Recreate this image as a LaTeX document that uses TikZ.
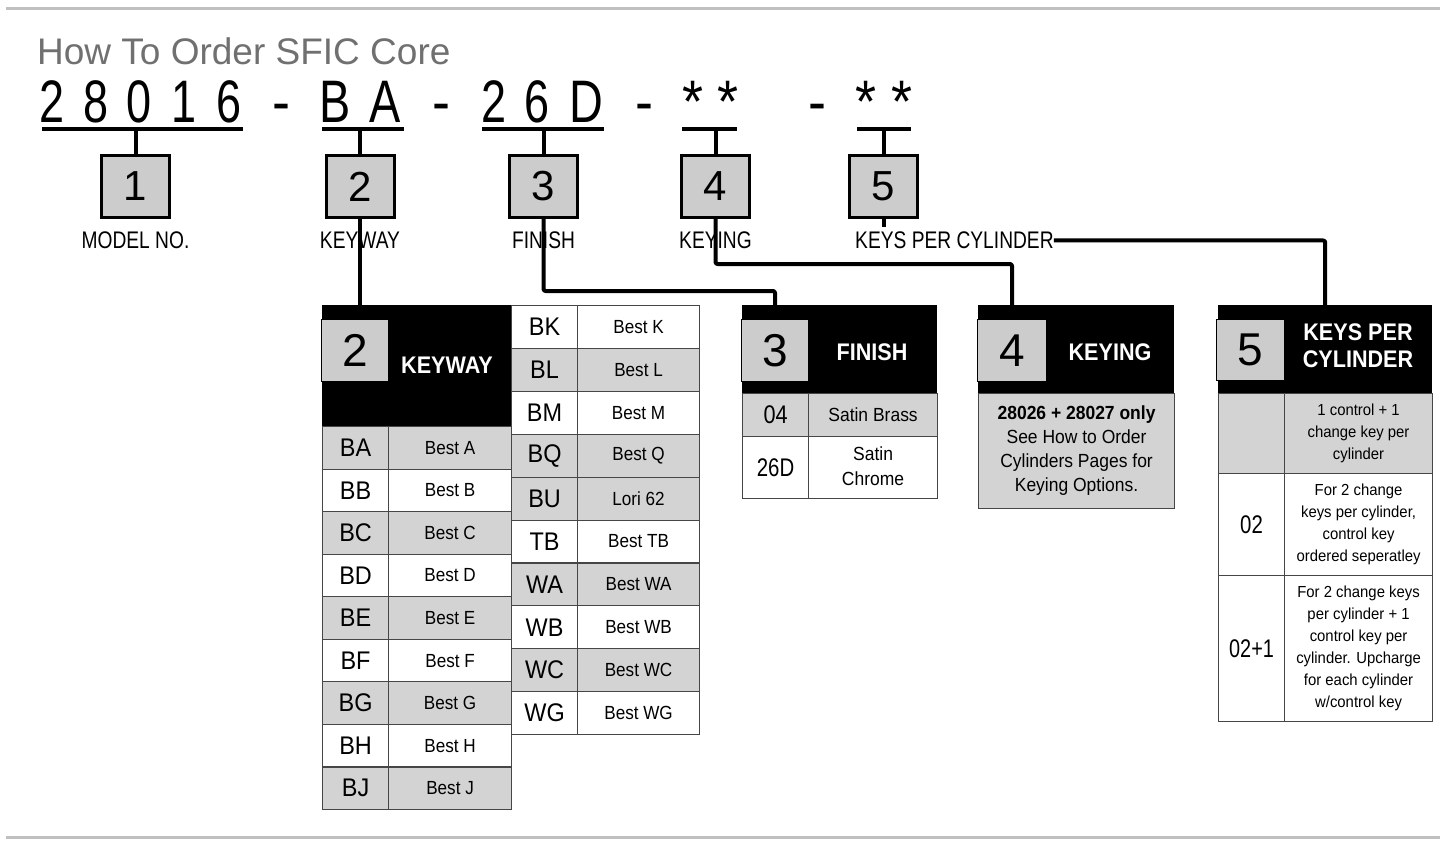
\documentclass[tikz,border=0pt]{standalone}
\usepackage{fontspec}
\setmainfont{Liberation Sans}
\usetikzlibrary{calc}
\definecolor{cellgray}{RGB}{211,211,211}
\definecolor{boxgray}{RGB}{204,204,204}
\definecolor{titlegray}{RGB}{112,112,112}
\definecolor{rulegray}{RGB}{192,192,192}
\definecolor{gridline}{RGB}{70,70,70}
\newcommand{\cnd}[2][0.85]{\scalebox{#1}[1]{#2}}
\begin{document}
\begin{tikzpicture}[x=1pt,y=-1pt,
  numbox/.style={draw=black, line width=3pt, fill=boxgray, minimum width=68pt, minimum height=62pt, inner sep=0pt, font=\fontsize{42}{42}\selectfont},
  bigtxt/.style={font=\fontsize{60}{60}\selectfont, inner sep=0pt},
  lbltxt/.style={font=\fontsize{24}{24}\selectfont, inner sep=0pt},
  hdr/.style={fill=black, inner sep=0pt, anchor=north west},
  hnum/.style={draw=black, line width=1.5pt, fill=boxgray, inner sep=0pt, anchor=north west, font=\fontsize{46}{46}\selectfont},
  htitle/.style={text=white, font=\bfseries\fontsize{24}{27}\selectfont, inner sep=0pt},
  cellbox/.style={draw=gridline, line width=1.1pt, inner sep=0pt, anchor=north west},
  codetxt/.style={font=\fontsize{25.5}{25.5}\selectfont},
  desctxt/.style={font=\fontsize{19}{25}\selectfont},
  smalltxt/.style={font=\fontsize{16}{22}\selectfont},
  conn/.style={line width=4pt, line join=round, rounded corners=2pt},
  uline/.style={line width=4pt}
]
\useasboundingbox (0,0) rectangle (1455,842);
% rules
\draw[rulegray, line width=3pt] (6,9) -- (1440,9);
\draw[rulegray, line width=3pt] (6,837) -- (1440,837);
% title
\node[anchor=base west, text=titlegray, font=\fontsize{37}{37}\selectfont, inner sep=0pt] (title) at (37,65) {How To Order SFIC Core};
% big code
\foreach \ch/\xx/\sc [count=\i] in {2/52.5/0.75, 8/96/0.75, 0/139/0.75, 1/184/0.75, 6/229/0.75, -/281.5/0.9, B/335/0.78, A/385.5/0.78, -/441.5/0.9, 2/494.5/0.75, 6/537.5/0.75, D/586/0.78, -/644.5/0.9, */692.5/0.9, */728/0.9, -/817.5/0.9, */866/0.9, */901.5/0.9}
  \node[bigtxt, anchor=base] (ch\i) at (\xx,123) {\cnd[\sc]{\ch}};
\draw[uline] (42,129) -- (243,129);
\draw[uline] (322,129) -- (404,129);
\draw[uline] (482,129) -- (604,129);
\draw[uline] (682,129) -- (737,129);
\draw[uline] (857,129) -- (911,129);
\coordinate (u1) at (135.5,129);
\coordinate (u2) at (360,129);
\coordinate (u3) at (543.5,129);
\coordinate (u4) at (715.5,129);
\coordinate (u5) at (883.5,129);
% number boxes
\node[numbox] (b1) at (135.5,186.5) {\raisebox{-3pt}{1}};
\node[numbox] (b2) at (360,186.5) {\raisebox{-3pt}{2}};
\node[numbox] (b3) at (543.5,186.5) {\raisebox{-3pt}{3}};
\node[numbox] (b4) at (715.5,186.5) {\raisebox{-3pt}{4}};
\node[numbox] (b5) at (883.5,186.5) {\raisebox{-3pt}{5}};
\foreach \k in {1,...,5} \draw[conn] (u\k) -- (b\k.north);

% ---- keyway table
\node[hdr, minimum width=189pt, minimum height=121pt] (kwh) at (322,305) {};
\node[hnum, minimum width=67pt, minimum height=62pt] (kwn) at (320.75,318.75) {2};
\node[htitle] (kwt) at (447,365) {\cnd[0.9]{KEYWAY}};
\foreach \c/\n/\f [count=\i from 0] in {BA/Best A/cellgray,BB/Best B/white,BC/Best C/cellgray,BD/Best D/white,BE/Best E/cellgray,BF/Best F/white,BG/Best G/cellgray,BH/Best H/white,BJ/Best J/cellgray}{
  \node[cellbox, codetxt, fill=\f, minimum width=66pt, minimum height=42.56pt] (kwc\i) at (322,{426+42.56*\i}) {\cnd[0.92]{\c}};
  \node[cellbox, desctxt, fill=\f, minimum width=123pt, minimum height=42.56pt] (kwd\i) at (388,{426+42.56*\i}) {\cnd[0.9]{\n}};
}
\foreach \c/\n/\f [count=\i from 0] in {BK/Best K/white,BL/Best L/cellgray,BM/Best M/white,BQ/Best Q/cellgray,BU/Lori 62/cellgray,TB/Best TB/white,WA/Best WA/cellgray,WB/Best WB/white,WC/Best WC/cellgray,WG/Best WG/white}{
  \node[cellbox, codetxt, fill=\f, minimum width=66pt, minimum height=42.9pt] (krc\i) at (511,{305+42.9*\i}) {\cnd[0.92]{\c}};
  \node[cellbox, desctxt, fill=\f, minimum width=122pt, minimum height=42.9pt] (krd\i) at (577,{305+42.9*\i}) {\cnd[0.9]{\n}};
}

% ---- finish table
\node[hdr, minimum width=195pt, minimum height=88pt] (fh) at (742,305) {};
\node[hnum, minimum width=67pt, minimum height=62pt] (fn) at (740.75,318.75) {3};
\node[htitle] (ft) at (872,352) {\cnd[0.9]{FINISH}};
\node[cellbox, codetxt, fill=cellgray, minimum width=66pt, minimum height=43pt] (fc0) at (742,393) {\cnd[0.85]{04}};
\node[cellbox, desctxt, fill=cellgray, minimum width=129pt, minimum height=43pt] (fd0) at (808,393) {\cnd[0.92]{Satin Brass}};
\node[cellbox, codetxt, fill=white, minimum width=66pt, minimum height=62pt] (fc1) at (742,436) {\cnd[0.8]{26D}};
\node[cellbox, desctxt, fill=white, minimum width=129pt, minimum height=62pt] (fd1) at (808,436) {\cnd[0.92]{\begin{tabular}{@{}c@{}}Satin\\Chrome\end{tabular}}};

% ---- keying table
\node[hdr, minimum width=196pt, minimum height=88pt] (kh) at (978,305) {};
\node[hnum, minimum width=69pt, minimum height=62pt] (kn) at (976.75,318.75) {4};
\node[htitle] (kt) at (1110,352) {\cnd[0.9]{KEYING}};
\node[cellbox, fill=cellgray, minimum width=196pt, minimum height=115pt, font=\fontsize{19}{24}\selectfont] (kb) at (978,393) {\cnd[0.92]{\begin{tabular}{@{}c@{}}\textbf{28026 + 28027 only}\\See How to Order\\Cylinders Pages for\\Keying Options.\end{tabular}}};

% ---- keys per cylinder table
\node[hdr, minimum width=214pt, minimum height=88pt] (ph) at (1218,305) {};
\node[hnum, minimum width=68pt, minimum height=61pt] (pn) at (1215.75,318.75) {5};
\node[htitle] (pt) at (1358,348.5) {\cnd[0.9]{\begin{tabular}{@{}c@{}}KEYS PER\\CYLINDER\end{tabular}}};
\node[cellbox, fill=cellgray, minimum width=66pt, minimum height=80pt] (pc0) at (1218,393) {};
\node[cellbox, smalltxt, fill=cellgray, minimum width=148pt, minimum height=80pt] (pd0) at (1284,393) {\cnd[0.93]{\begin{tabular}{@{}c@{}}1 control + 1\\change key per\\cylinder\end{tabular}}};
\node[cellbox, codetxt, fill=white, minimum width=66pt, minimum height=102pt] (pc1) at (1218,473) {\cnd[0.8]{02}};
\node[cellbox, smalltxt, fill=white, minimum width=148pt, minimum height=102pt] (pd1) at (1284,473) {\cnd[0.93]{\begin{tabular}{@{}c@{}}For 2 change\\keys per cylinder,\\control key\\ordered seperatley\end{tabular}}};
\node[cellbox, codetxt, fill=white, minimum width=66pt, minimum height=146pt] (pc2) at (1218,575) {\cnd[0.78]{02+1}};
\node[cellbox, smalltxt, fill=white, minimum width=148pt, minimum height=146pt] (pd2) at (1284,575) {\cnd[0.93]{\begin{tabular}{@{}c@{}}For 2 change keys\\per cylinder + 1\\control key per\\cylinder. Upcharge\\for each cylinder\\w/control key\end{tabular}}};

% ---- connectors
\draw[conn] (b2.south) -- (b2.south |- kwh.north);
\draw[conn] (b3.south) -- ++(0,72) -| (fn.north |- fh.north);
\draw[conn] (b4.south) -- ++(0,45) -| (kn.north |- kh.north);
\draw[conn] (b5.south) -- ++(0,8);

% labels
\node[lbltxt] (l1) at (135.5,240.5) {\cnd[0.8]{MODEL NO.}};
\node[lbltxt] (l2) at (360,240.5) {\cnd[0.8]{KEYWAY}};
\node[lbltxt] (l3) at (543.5,240.5) {\cnd[0.8]{FINISH}};
\node[lbltxt] (l4) at (715.5,240.5) {\cnd[0.8]{KEYING}};
\node[lbltxt, anchor=west] (l5) at (855,240.5) {\cnd[0.8]{KEYS PER CYLINDER}};
\draw[conn] (l5.east) -| (ph.north);
\end{tikzpicture}
\end{document}
